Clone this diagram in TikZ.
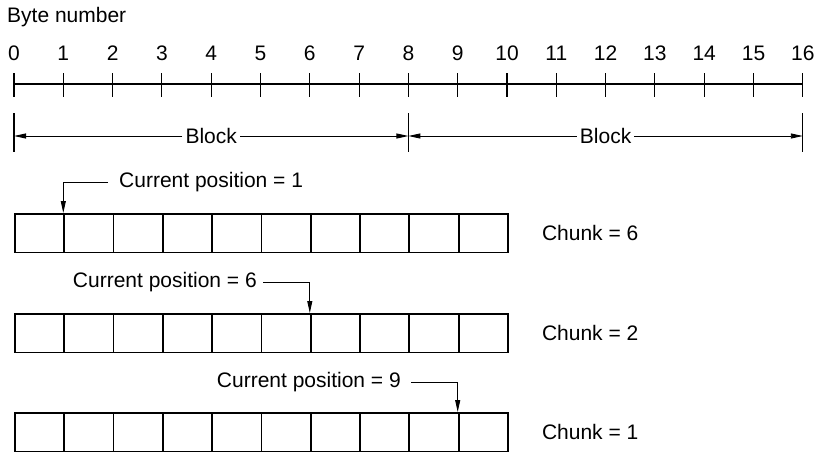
\documentclass[tikz,border=0pt]{standalone}
\usepackage{fontspec}
\setmainfont{Liberation Sans}
\usetikzlibrary{arrows.meta, positioning}

\begin{document}
\begin{tikzpicture}[
  x=1pt, y=-1pt,
  every node/.style={font=\fontsize{21}{25}\selectfont},
  lbl/.style={inner sep=0pt},
  cell/.style={rectangle, draw=black, line width=1.8pt, minimum width=49.3pt, minimum height=38.5pt, inner sep=0pt},
  tickmark/.style={line width=1.1pt},
  axis/.style={line width=1.7pt},
  arr/.style={-{Triangle[length=12pt, width=5pt]}, line width=0.9pt}
]
\useasboundingbox (0,0) rectangle (816,452);

% byte number axis
\node[lbl, anchor=west] (bytenum) at (7,17) {Byte number};
\foreach \i in {0,...,16} {
  \node[lbl, anchor=base] (d\i) at ({14+49.3*\i},60) {\i};
  \coordinate (t\i) at ({14+49.3*\i},84);
  \draw[tickmark] ([yshift=11pt]t\i) -- ([yshift=-13pt]t\i);
}
\draw[axis] (t0) -- (t16);

% blocks
\coordinate (b0) at (14,136);
\coordinate (b8) at (408.4,136);
\coordinate (b16) at (802.8,136);
\foreach \b in {b0,b8,b16}
  \draw[tickmark] ([yshift=23pt]\b) -- ([yshift=-16pt]\b);
\node[lbl, inner sep=3pt] (blk1) at (211.2,136) {Block};
\node[lbl, inner sep=3pt] (blk2) at (605.6,136) {Block};
\draw[arr] (blk1) -- (b0);
\draw[arr] (blk1) -- (b8);
\draw[arr] (blk2) -- (b8);
\draw[arr] (blk2) -- (b16);

% buffer rows
\foreach \r/\y in {1/213, 2/313, 3/412}
  \foreach \k in {0,...,9}
    \node[cell, anchor=north west] (box\r-\k) at ({14+49.3*\k},\y) {};

\node[lbl, right=33pt of box1-9] (chunk1) {Chunk = 6};
\node[lbl, right=33pt of box2-9] (chunk2) {Chunk = 2};
\node[lbl, right=33pt of box3-9] (chunk3) {Chunk = 1};

% current positions
\node[lbl, anchor=west] (pos1) at (119,182) {Current position = 1};
\node[lbl, anchor=east] (pos2) at (257,282) {Current position = 6};
\node[lbl, anchor=east] (pos3) at (401,382) {Current position = 9};
\draw[arr, shorten <=11pt] (pos1.west) -| (box1-1.north west);
\draw[arr, shorten <=6pt] (pos2.east) -| (box2-6.north west);
\draw[arr, shorten <=10pt] (pos3.east) -| (box3-9.north west);
\end{tikzpicture}
\end{document}
